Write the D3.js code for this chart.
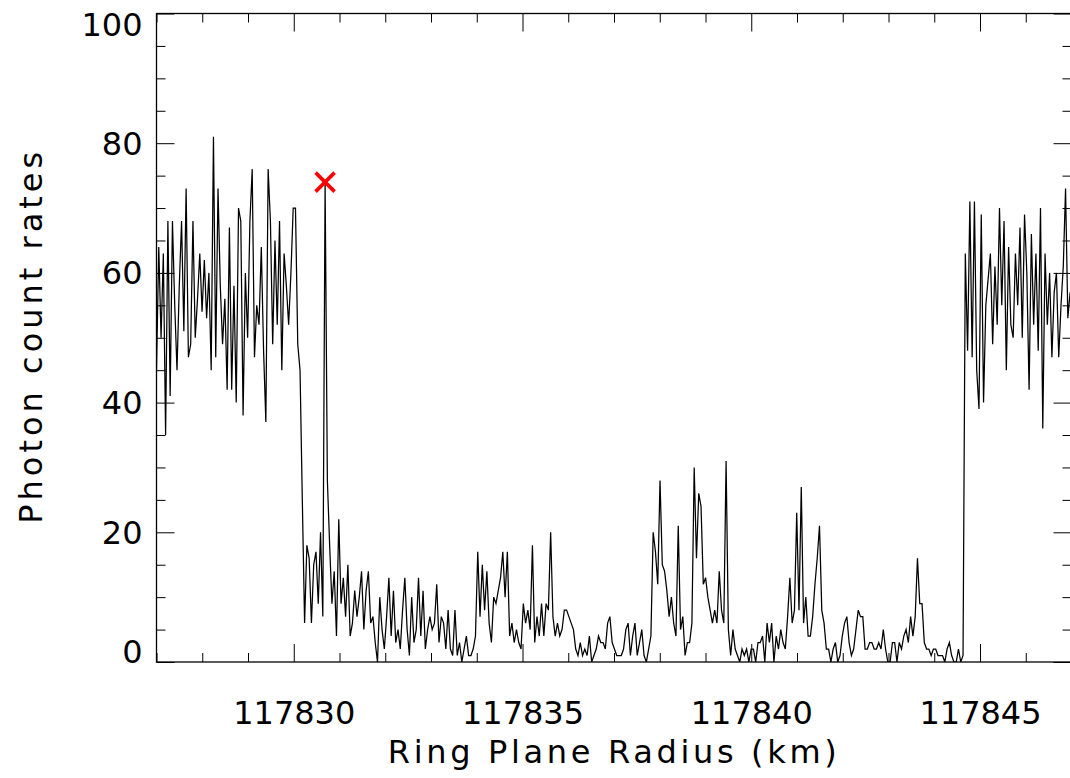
<!DOCTYPE html>
<html>
<head>
<meta charset="utf-8">
<script src="https://cdn.jsdelivr.net/npm/d3@7"></script>
<style>
  body { margin: 0; background: #fff; }
  svg text { font-family: "DejaVu Sans", sans-serif; }
</style>
</head>
<body>
<svg id="chart" width="1070" height="778"></svg>
<script>
// radius grid of the occultation samples (km)
const radiusStart = 117827.0;
const radiusStep = 0.0498;

// photon counts, inner ring (one row per km)
const innerRingCounts = [
    45, 64, 50, 63, 35, 68, 41, 68, 55, 45, 58, 68, 51, 73, 47, 49, 68, 50, 56, 63,
    54, 62, 53, 60, 45, 81, 47, 73, 58, 49, 56, 42, 67, 42, 58, 40, 70, 68, 38, 60,
    50, 68, 76, 47, 55, 52, 64, 48, 37, 76, 68, 49, 65, 52, 68, 45, 63, 58, 52, 60,
    70, 70, 49, 45
];

// photon counts inside the gap
const gapCounts = [
                        25, 6, 18, 16, 6, 15, 17, 9, 20, 7, 74, 28, 18, 9, 14, 4,
    22, 9, 13, 7, 15, 4, 6, 11, 7, 10, 14, 5, 11, 14, 6, 7, 3, 0, 10, 5,
    2, 7, 13, 4, 11, 3, 5, 2, 8, 13, 5, 1, 10, 3, 5, 13, 4, 11, 2, 5,
    7, 5, 6, 12, 3, 7, 6, 2, 8, 2, 1, 8, 1, 3, 0, 2, 4, 1, 1, 2,
    4, 17, 7, 15, 8, 14, 6, 3, 10, 9, 11, 13, 17, 10, 17, 4, 6, 3, 5, 3,
    2, 9, 6, 8, 5, 18, 3, 7, 4, 9, 4, 9, 8, 20, 7, 4, 6, 4, 5, 8,
    8, 7, 6, 5, 2, 1, 3, 1, 2, 1, 4, 0, 1, 2, 4, 3, 3, 2, 6, 7,
    3, 2, 1, 1, 1, 2, 5, 6, 1, 4, 6, 1, 3, 5, 1, 0, 2, 4, 20, 17,
    12, 28, 15, 14, 11, 7, 10, 6, 4, 21, 5, 7, 1, 3, 3, 6, 30, 16, 26, 24,
    12, 13, 10, 8, 6, 8, 6, 14, 8, 6, 31, 5, 1, 5, 2, 1, 0, 2, 1, 2,
    0, 2, 2, 0, 3, 3, 4, 0, 6, 3, 6, 0, 4, 2, 5, 3, 2, 7, 13, 6,
    8, 23, 8, 27, 6, 10, 4, 4, 7, 12, 16, 21, 8, 6, 2, 2, 0, 2, 3, 0,
    1, 4, 6, 7, 3, 1, 2, 5, 8, 7, 7, 2, 2, 3, 3, 2, 2, 3, 2, 5,
    2, 0, 0, 3, 3, 0, 3, 2, 4, 5, 3, 7, 4, 7, 16, 9, 9, 3, 2, 2,
    1, 2, 2, 1, 1, 1, 0, 2, 3, 1, 0, 0, 2, 0, 1
];

// photon counts, outer ring
const outerRingCounts = [
                                                                      63, 48, 71, 47, 71,
    45, 39, 69, 40, 55, 59, 63, 49, 61, 52, 70, 55, 68, 45, 64, 52, 50, 63, 55, 67,
    50, 69, 60, 42, 66, 52, 63, 48, 70, 36, 63, 52, 60, 47, 57, 60, 47, 55, 61, 73, 53, 57
];

// spike flagged with the red cross
const peakMarker = [{ radius: 117830.685, count: 74 }];

const xTickValues = [117830, 117835, 117840, 117845];
const yTickValues = [0, 20, 40, 60, 80, 100];

const counts = innerRingCounts.concat(gapCounts, outerRingCounts);
const samples = counts.map((c, i) => ({ radius: radiusStart + i * radiusStep, count: c }));

const svg = d3.select("#chart");

const xScale = d3.scaleLinear()
    .domain([117827, 117847])
    .range([156.5, 1071.5]);

const yScale = d3.scaleLinear()
    .domain([0, 100])
    .range([662, 13.5]);

const [x0, x1] = xScale.range();
const [y0, y1] = yScale.range();

const xMinor = d3.range(117827, 117848, 1).filter(v => v % 5 !== 0);
const yMinor = d3.range(0, 101, 5).filter(v => v % 20 !== 0);

const addAxis = (axis, transform) => {
    const g = svg.append("g")
        .attr("transform", transform)
        .call(axis);
    g.select(".domain").remove();
    g.selectAll("line").attr("stroke", "#000").attr("stroke-width", 1);
    g.selectAll("text")
        .attr("font-size", 32)
        .attr("font-family", "DejaVu Sans, sans-serif")
        .attr("fill", "#000");
    return g;
};

// bottom and top
addAxis(d3.axisBottom(xScale).tickValues(xTickValues).tickSize(-18).tickPadding(39)
    .tickFormat(d3.format("d")), `translate(0,${y0})`);
addAxis(d3.axisBottom(xScale).tickValues(xMinor).tickSize(-9).tickFormat(""), `translate(0,${y0})`);
addAxis(d3.axisTop(xScale).tickValues(xTickValues).tickSize(-18).tickFormat(""), `translate(0,${y1})`);
addAxis(d3.axisTop(xScale).tickValues(xMinor).tickSize(-9).tickFormat(""), `translate(0,${y1})`);

// left and right
const yAxisG = addAxis(d3.axisLeft(yScale).tickValues(yTickValues).tickSize(-18).tickPadding(14),
    `translate(${x0},0)`);
addAxis(d3.axisLeft(yScale).tickValues(yMinor).tickSize(-9).tickFormat(""), `translate(${x0},0)`);
addAxis(d3.axisRight(yScale).tickValues(yTickValues).tickSize(-18).tickFormat(""), `translate(${x1},0)`);
addAxis(d3.axisRight(yScale).tickValues(yMinor).tickSize(-9).tickFormat(""), `translate(${x1},0)`);

// end labels sit inside the frame
yAxisG.selectAll(".tick text")
    .attr("dy", d => d === 0 ? "0em" : d === 100 ? "0.7em" : "0.34em");

// frame
svg.append("rect")
    .attr("x", x0)
    .attr("y", y1)
    .attr("width", x1 - x0)
    .attr("height", y0 - y1)
    .attr("fill", "none")
    .attr("stroke", "#000")
    .attr("stroke-width", 1.3);

svg.append("clipPath")
    .attr("id", "plot-clip")
    .append("rect")
        .attr("x", x0)
        .attr("y", y1)
        .attr("width", x1 - x0)
        .attr("height", y0 - y1);

const line = d3.line()
    .x(d => xScale(d.radius))
    .y(d => yScale(d.count));

svg.append("path")
    .datum(samples)
    .attr("clip-path", "url(#plot-clip)")
    .attr("d", line)
    .attr("fill", "none")
    .attr("stroke", "#000")
    .attr("stroke-width", 1.25);

// red cross on the spike
const cross = svg.selectAll(".marker")
    .data(peakMarker)
    .join("g")
        .attr("class", "marker")
        .attr("transform", d => `translate(${xScale(d.radius)},${yScale(d.count)})`);

cross.append("path")
    .attr("d", "M-9.5,-9.5L9.5,9.5M-9.5,9.5L9.5,-9.5")
    .attr("stroke", "#ff0000")
    .attr("stroke-width", 3.6)
    .attr("fill", "none");

// axis titles
svg.append("text")
    .attr("x", (x0 + 1068) / 2)
    .attr("y", 763)
    .attr("text-anchor", "middle")
    .attr("font-size", 32)
    .attr("textLength", 449)
    .attr("lengthAdjust", "spacing")
    .text("Ring Plane Radius (km)");

svg.append("text")
    .attr("transform", `translate(42,${(y0 + y1) / 2}) rotate(-90)`)
    .attr("text-anchor", "middle")
    .attr("font-size", 32)
    .attr("textLength", 372)
    .attr("lengthAdjust", "spacing")
    .text("Photon count rates");
</script>
</body>
</html>
